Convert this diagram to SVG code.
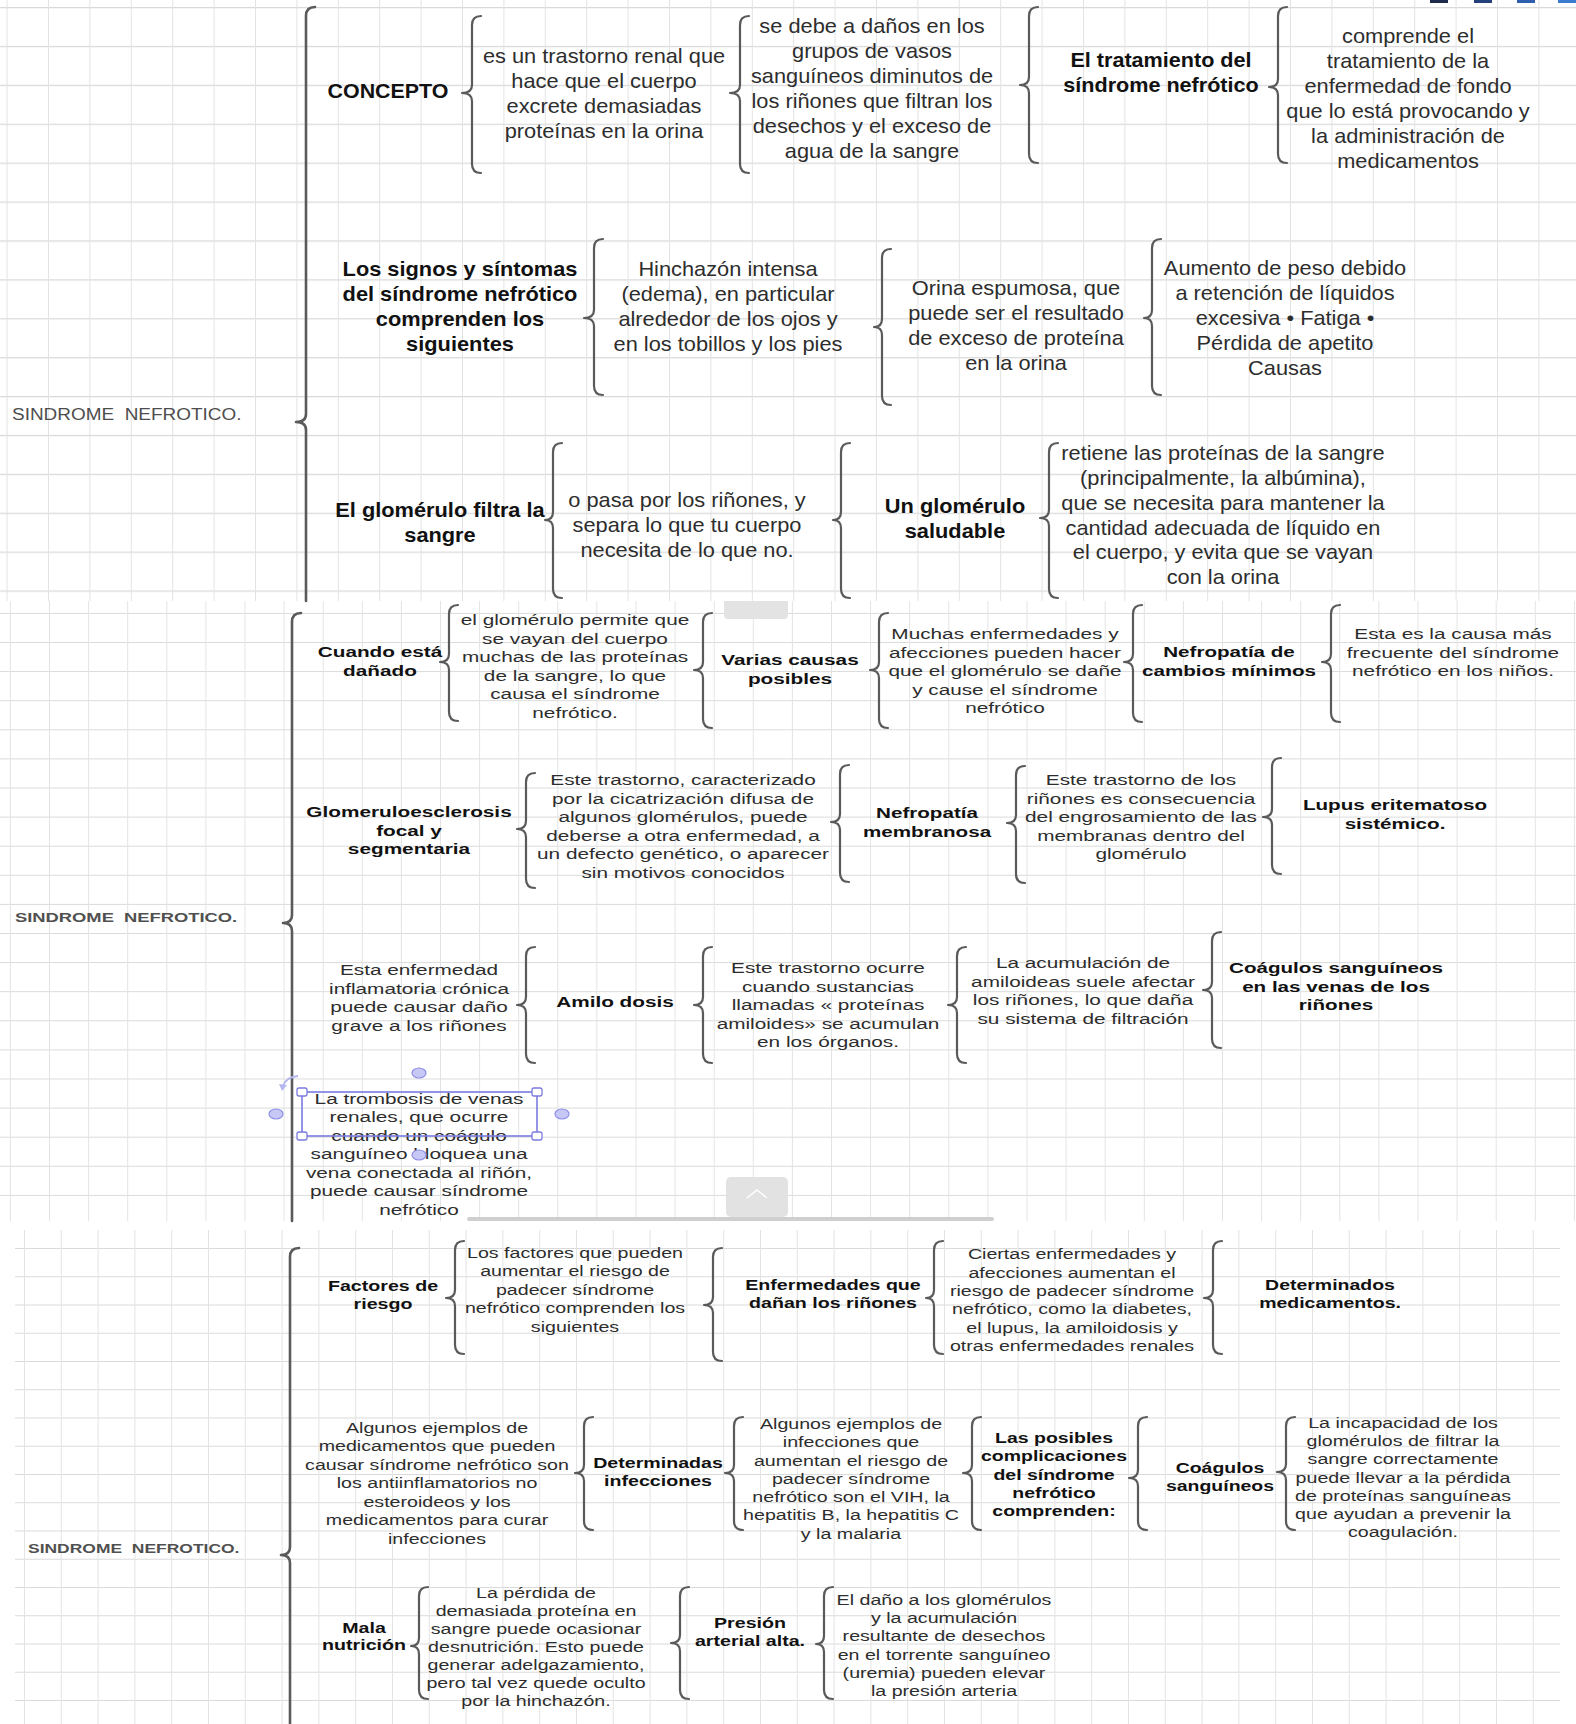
<svg xmlns="http://www.w3.org/2000/svg" width="1576" height="1724" viewBox="0 0 1576 1724">
<style>
.t{font-family:"Liberation Sans",Arial,sans-serif;text-anchor:middle;fill:#2d2d2d}
.f1{font-size:20px}
.f2{font-size:15.5px}
.f3{font-size:15.4px}
.b{font-weight:bold;fill:#111}
.root{font-family:"Liberation Sans",Arial,sans-serif;text-anchor:start;fill:#4d4d4d;white-space:pre}
.r1{font-size:17.4px}
.r2{font-size:13.7px;font-weight:bold;fill:#505050}
.br{fill:none;stroke:#5a5a5a;stroke-width:2.2;stroke-linecap:round;stroke-linejoin:round}
.main{stroke-width:2.6}
.hl{fill:#c8c8f6;stroke:#8e8ee8;stroke-width:1.2}
.hs{fill:#fff;stroke:#7b7be0;stroke-width:1.3}
</style>
<defs>
<pattern id="g1" patternUnits="userSpaceOnUse" x="6.6" y="7" width="41.4" height="38.9"><path d="M0 0.5H41.4" stroke="#d9d9d9" stroke-width="1.3"/><path d="M0.5 0V38.9" stroke="#e3e3e3"/></pattern>
<pattern id="g2" patternUnits="userSpaceOnUse" x="9.9" y="1.8" width="39.1" height="29.1"><path d="M0 0.5H39.1" stroke="#dadada"/><path d="M0.5 0V29.1" stroke="#e3e3e3"/></pattern>
<pattern id="g3" patternUnits="userSpaceOnUse" x="24" y="1248" width="36.8" height="28.25"><path d="M0 0.5H36.8" stroke="#dadada"/><path d="M0.5 0V28.25" stroke="#e3e3e3"/></pattern>
</defs>
<rect width="1576" height="1724" fill="#fff"/>
<g id="background">
<rect x="0" y="0" width="1576" height="601" fill="url(#g1)"/>
<rect x="0" y="601" width="1576" height="620" fill="url(#g2)"/>
<rect x="15" y="1230" width="1545" height="494" fill="url(#g3)"/>
<rect x="1430" y="0" width="18" height="3" fill="#1f2d4d"/>
<rect x="1474" y="0" width="18" height="3" fill="#25407a"/>
<rect x="1517" y="0" width="18" height="3" fill="#2e5fae"/>
<rect x="1558" y="0" width="18" height="3" fill="#3b7bd0"/>
<path d="M724 601H788V615Q788 619 784 619H728Q724 619 724 615Z" fill="#e3e3e3"/>
<rect x="726" y="1177" width="62" height="40" rx="5" fill="#e2e2e2"/>
<polyline points="747,1198 757,1190 767,1198" fill="none" stroke="#fff" stroke-width="1.5"/>
<rect x="467" y="1217" width="527" height="4" rx="2" fill="#cfcfcf"/>
</g>
<g id="connectors">
<path class="br main" d="M315 7Q306 7 306 16V414Q306 422 296 422Q306 422 306 430V601"/>
<path class="br" d="M481 16Q472 16 472 25V85Q472 93 462 93Q472 93 472 101V164Q472 173 481 173"/>
<path class="br" d="M749 16Q740 16 740 25V85Q740 93 730 93Q740 93 740 101V164Q740 173 749 173"/>
<path class="br" d="M1038 7Q1029 7 1029 16V77Q1029 85 1020 85Q1029 85 1029 93V154Q1029 163 1038 163"/>
<path class="br" d="M1287 7Q1278 7 1278 16V79Q1278 87 1269 87Q1278 87 1278 95V154Q1278 163 1287 163"/>
<path class="br" d="M603 239Q594 239 594 248V310Q594 318 584 318Q594 318 594 326V386Q594 395 603 395"/>
<path class="br" d="M891 249Q882 249 882 258V319Q882 327 874 327Q882 327 882 335V396Q882 405 891 405"/>
<path class="br" d="M1161 239Q1152 239 1152 248V310Q1152 318 1144 318Q1152 318 1152 326V386Q1152 395 1161 395"/>
<path class="br" d="M562 443Q553 443 553 452V512Q553 520 545 520Q553 520 553 528V589Q553 598 562 598"/>
<path class="br" d="M850 443Q841 443 841 452V512Q841 520 833 520Q841 520 841 528V589Q841 598 850 598"/>
<path class="br" d="M1058 443Q1049 443 1049 452V510Q1049 518 1040 518Q1049 518 1049 526V589Q1049 598 1058 598"/>
<path class="br main" d="M301 613Q292 613 292 622V915Q292 923 283 923Q292 923 292 931V1221"/>
<path class="br" d="M458 605Q449 605 449 614V654Q449 662 440 662Q449 662 449 670V712Q449 721 458 721"/>
<path class="br" d="M712 613Q703 613 703 622V662Q703 670 694 670Q703 670 703 678V719Q703 728 712 728"/>
<path class="br" d="M888 613Q879 613 879 622V662Q879 670 870 670Q879 670 879 678V719Q879 728 888 728"/>
<path class="br" d="M1142 605Q1133 605 1133 614V654Q1133 662 1124 662Q1133 662 1133 670V713Q1133 722 1142 722"/>
<path class="br" d="M1340 605Q1331 605 1331 614V654Q1331 662 1322 662Q1331 662 1331 670V713Q1331 722 1340 722"/>
<path class="br" d="M535 773Q526 773 526 782V821Q526 829 517 829Q526 829 526 837V879Q526 888 535 888"/>
<path class="br" d="M849 765Q840 765 840 774V814Q840 822 831 822Q840 822 840 830V873Q840 882 849 882"/>
<path class="br" d="M1025 766Q1016 766 1016 775V815Q1016 823 1007 823Q1016 823 1016 831V874Q1016 883 1025 883"/>
<path class="br" d="M1281 758Q1272 758 1272 767V809Q1272 817 1263 817Q1272 817 1272 825V865Q1272 874 1281 874"/>
<path class="br" d="M535 947Q526 947 526 956V997Q526 1005 517 1005Q526 1005 526 1013V1054Q526 1063 535 1063"/>
<path class="br" d="M712 947Q703 947 703 956V997Q703 1005 694 1005Q703 1005 703 1013V1054Q703 1063 712 1063"/>
<path class="br" d="M966 947Q957 947 957 956V997Q957 1005 948 1005Q957 1005 957 1013V1054Q957 1063 966 1063"/>
<path class="br" d="M1221 932Q1212 932 1212 941V982Q1212 990 1203 990Q1212 990 1212 998V1039Q1212 1048 1221 1048"/>
<path class="br main" d="M299 1248Q290 1248 290 1257V1547Q290 1555 281 1555Q290 1555 290 1563V1724"/>
<path class="br" d="M464 1241Q455 1241 455 1250V1290Q455 1298 446 1298Q455 1298 455 1306V1345Q455 1354 464 1354"/>
<path class="br" d="M722 1248Q713 1248 713 1257V1297Q713 1305 704 1305Q713 1305 713 1313V1352Q713 1361 722 1361"/>
<path class="br" d="M943 1241Q934 1241 934 1250V1290Q934 1298 926 1298Q934 1298 934 1306V1345Q934 1354 943 1354"/>
<path class="br" d="M1222 1241Q1213 1241 1213 1250V1290Q1213 1298 1204 1298Q1213 1298 1213 1306V1345Q1213 1354 1222 1354"/>
<path class="br" d="M593 1417Q584 1417 584 1426V1465Q584 1473 575 1473Q584 1473 584 1481V1521Q584 1530 593 1530"/>
<path class="br" d="M743 1417Q734 1417 734 1426V1465Q734 1473 725 1473Q734 1473 734 1481V1521Q734 1530 743 1530"/>
<path class="br" d="M981 1417Q972 1417 972 1426V1465Q972 1473 963 1473Q972 1473 972 1481V1521Q972 1530 981 1530"/>
<path class="br" d="M1147 1417Q1138 1417 1138 1426V1470Q1138 1478 1129 1478Q1138 1478 1138 1486V1521Q1138 1530 1147 1530"/>
<path class="br" d="M1295 1417Q1286 1417 1286 1426V1464Q1286 1472 1277 1472Q1286 1472 1286 1480V1521Q1286 1530 1295 1530"/>
<path class="br" d="M428 1587Q419 1587 419 1596V1638Q419 1646 411 1646Q419 1646 419 1654V1690Q419 1699 428 1699"/>
<path class="br" d="M689 1587Q680 1587 680 1596V1635Q680 1643 671 1643Q680 1643 680 1651V1690Q680 1699 689 1699"/>
<path class="br" d="M833 1587Q824 1587 824 1596V1636Q824 1644 816 1644Q824 1644 824 1652V1690Q824 1699 833 1699"/>
</g>
<g id="n1-root"><text class="root r1" xml:space="preserve" transform="translate(12 0) scale(1.09 1)"><tspan x="0" y="420">SINDROME  NEFROTICO.</tspan></text></g>
<g id="n1-concepto"><text class="t f1 b" transform="translate(388 0) scale(1.07 1)"><tspan x="0" y="98">CONCEPTO</tspan></text></g>
<g id="n1-def"><text class="t f1" transform="translate(604 0) scale(1.09 1)"><tspan x="0" y="63">es un trastorno renal que</tspan><tspan x="0" y="88">hace que el cuerpo</tspan><tspan x="0" y="113">excrete demasiadas</tspan><tspan x="0" y="138">proteínas en la orina</tspan></text></g>
<g id="n1-causa"><text class="t f1" transform="translate(872 0) scale(1.09 1)"><tspan x="0" y="33">se debe a daños en los</tspan><tspan x="0" y="58">grupos de vasos</tspan><tspan x="0" y="83">sanguíneos diminutos de</tspan><tspan x="0" y="108">los riñones que filtran los</tspan><tspan x="0" y="133">desechos y el exceso de</tspan><tspan x="0" y="158">agua de la sangre</tspan></text></g>
<g id="n1-trat"><text class="t f1 b" transform="translate(1161 0) scale(1.08 1)"><tspan x="0" y="67">El tratamiento del</tspan><tspan x="0" y="92">síndrome nefrótico</tspan></text></g>
<g id="n1-trat-desc"><text class="t f1" transform="translate(1408 0) scale(1.09 1)"><tspan x="0" y="43">comprende el</tspan><tspan x="0" y="68">tratamiento de la</tspan><tspan x="0" y="93">enfermedad de fondo</tspan><tspan x="0" y="118">que lo está provocando y</tspan><tspan x="0" y="143">la administración de</tspan><tspan x="0" y="168">medicamentos</tspan></text></g>
<g id="n1-signos"><text class="t f1 b" transform="translate(460 0) scale(1.09 1)"><tspan x="0" y="276">Los signos y síntomas</tspan><tspan x="0" y="301">del síndrome nefrótico</tspan><tspan x="0" y="326">comprenden los</tspan><tspan x="0" y="351">siguientes</tspan></text></g>
<g id="n1-hinchazon"><text class="t f1" transform="translate(728 0) scale(1.09 1)"><tspan x="0" y="276">Hinchazón intensa</tspan><tspan x="0" y="301">(edema), en particular</tspan><tspan x="0" y="326">alrededor de los ojos y</tspan><tspan x="0" y="351">en los tobillos y los pies</tspan></text></g>
<g id="n1-orina"><text class="t f1" transform="translate(1016 0) scale(1.09 1)"><tspan x="0" y="295">Orina espumosa, que</tspan><tspan x="0" y="320">puede ser el resultado</tspan><tspan x="0" y="345">de exceso de proteína</tspan><tspan x="0" y="370">en la orina</tspan></text></g>
<g id="n1-peso"><text class="t f1" transform="translate(1285 0) scale(1.09 1)"><tspan x="0" y="275">Aumento de peso debido</tspan><tspan x="0" y="300">a retención de líquidos</tspan><tspan x="0" y="325">excesiva • Fatiga •</tspan><tspan x="0" y="350">Pérdida de apetito</tspan><tspan x="0" y="375">Causas</tspan></text></g>
<g id="n1-glomerulo"><text class="t f1 b" transform="translate(440 0) scale(1.09 1)"><tspan x="0" y="517">El glomérulo filtra la</tspan><tspan x="0" y="542">sangre</tspan></text></g>
<g id="n1-pasa"><text class="t f1" transform="translate(687 0) scale(1.09 1)"><tspan x="0" y="507">o pasa por los riñones, y</tspan><tspan x="0" y="532">separa lo que tu cuerpo</tspan><tspan x="0" y="557">necesita de lo que no.</tspan></text></g>
<g id="n1-saludable"><text class="t f1 b" transform="translate(955 0) scale(1.09 1)"><tspan x="0" y="513">Un glomérulo</tspan><tspan x="0" y="538">saludable</tspan></text></g>
<g id="n1-retiene"><text class="t f1" transform="translate(1223 0) scale(1.09 1)"><tspan x="0" y="460">retiene las proteínas de la sangre</tspan><tspan x="0" y="485">(principalmente, la albúmina),</tspan><tspan x="0" y="510">que se necesita para mantener la</tspan><tspan x="0" y="535">cantidad adecuada de líquido en</tspan><tspan x="0" y="559">el cuerpo, y evita que se vayan</tspan><tspan x="0" y="584">con la orina</tspan></text></g>
<g id="n2-root"><text class="root r2" xml:space="preserve" transform="translate(15 0) scale(1.34 1)"><tspan x="0" y="922">SINDROME  NEFROTICO.</tspan></text></g>
<g id="n2-cuando"><text class="t f2 b" transform="translate(380 0) scale(1.34 1)"><tspan x="0" y="657">Cuando está</tspan><tspan x="0" y="676">dañado</tspan></text></g>
<g id="n2-permite"><text class="t f2" transform="translate(575 0) scale(1.34 1)"><tspan x="0" y="625">el glomérulo permite que</tspan><tspan x="0" y="643.6">se vayan del cuerpo</tspan><tspan x="0" y="662.2">muchas de las proteínas</tspan><tspan x="0" y="680.8">de la sangre, lo que</tspan><tspan x="0" y="699.4">causa el síndrome</tspan><tspan x="0" y="718">nefrótico.</tspan></text></g>
<g id="n2-varias"><text class="t f2 b" transform="translate(790 0) scale(1.34 1)"><tspan x="0" y="665">Varias causas</tspan><tspan x="0" y="683.6">posibles</tspan></text></g>
<g id="n2-muchas"><text class="t f2" transform="translate(1005 0) scale(1.34 1)"><tspan x="0" y="639">Muchas enfermedades y</tspan><tspan x="0" y="657.6">afecciones pueden hacer</tspan><tspan x="0" y="676.2">que el glomérulo se dañe</tspan><tspan x="0" y="694.8">y cause el síndrome</tspan><tspan x="0" y="713.4">nefrótico</tspan></text></g>
<g id="n2-cambios"><text class="t f2 b" transform="translate(1229 0) scale(1.33 1)"><tspan x="0" y="657">Nefropatía de</tspan><tspan x="0" y="676">cambios mínimos</tspan></text></g>
<g id="n2-frecuente"><text class="t f2" transform="translate(1453 0) scale(1.34 1)"><tspan x="0" y="639">Esta es la causa más</tspan><tspan x="0" y="657.6">frecuente del síndrome</tspan><tspan x="0" y="676.2">nefrótico en los niños.</tspan></text></g>
<g id="n2-glomeruloesclerosis"><text class="t f2 b" transform="translate(409 0) scale(1.34 1)"><tspan x="0" y="817">Glomeruloesclerosis</tspan><tspan x="0" y="835.6">focal y</tspan><tspan x="0" y="854.2">segmentaria</tspan></text></g>
<g id="n2-cicatrizacion"><text class="t f2" transform="translate(683 0) scale(1.34 1)"><tspan x="0" y="785">Este trastorno, caracterizado</tspan><tspan x="0" y="803.6">por la cicatrización difusa de</tspan><tspan x="0" y="822.2">algunos glomérulos, puede</tspan><tspan x="0" y="840.8">deberse a otra enfermedad, a</tspan><tspan x="0" y="859.4">un defecto genético, o aparecer</tspan><tspan x="0" y="878">sin motivos conocidos</tspan></text></g>
<g id="n2-membranosa"><text class="t f2 b" transform="translate(927 0) scale(1.33 1)"><tspan x="0" y="818">Nefropatía</tspan><tspan x="0" y="836.6">membranosa</tspan></text></g>
<g id="n2-engrosamiento"><text class="t f2" transform="translate(1141 0) scale(1.34 1)"><tspan x="0" y="785">Este trastorno de los</tspan><tspan x="0" y="803.6">riñones es consecuencia</tspan><tspan x="0" y="822.2">del engrosamiento de las</tspan><tspan x="0" y="840.8">membranas dentro del</tspan><tspan x="0" y="859.4">glomérulo</tspan></text></g>
<g id="n2-lupus"><text class="t f2 b" transform="translate(1395 0) scale(1.33 1)"><tspan x="0" y="810">Lupus eritematoso</tspan><tspan x="0" y="828.6">sistémico.</tspan></text></g>
<g id="n2-inflamatoria"><text class="t f2" transform="translate(419 0) scale(1.34 1)"><tspan x="0" y="975">Esta enfermedad</tspan><tspan x="0" y="993.6">inflamatoria crónica</tspan><tspan x="0" y="1012.2">puede causar daño</tspan><tspan x="0" y="1030.8">grave a los riñones</tspan></text></g>
<g id="n2-amilo"><text class="t f2 b" transform="translate(615 0) scale(1.34 1)"><tspan x="0" y="1007">Amilo dosis</tspan></text></g>
<g id="n2-amiloides"><text class="t f2" transform="translate(828 0) scale(1.34 1)"><tspan x="0" y="973">Este trastorno ocurre</tspan><tspan x="0" y="991.6">cuando sustancias</tspan><tspan x="0" y="1010.2">llamadas « proteínas</tspan><tspan x="0" y="1028.8">amiloides» se acumulan</tspan><tspan x="0" y="1047.4">en los órganos.</tspan></text></g>
<g id="n2-acumulacion"><text class="t f2" transform="translate(1083 0) scale(1.34 1)"><tspan x="0" y="968">La acumulación de</tspan><tspan x="0" y="986.6">amiloideas suele afectar</tspan><tspan x="0" y="1005.2">los riñones, lo que daña</tspan><tspan x="0" y="1023.8">su sistema de filtración</tspan></text></g>
<g id="n2-coagulos"><text class="t f2 b" transform="translate(1336 0) scale(1.33 1)"><tspan x="0" y="973">Coágulos sanguíneos</tspan><tspan x="0" y="991.6">en las venas de los</tspan><tspan x="0" y="1010.2">riñones</tspan></text></g>
<g id="n2-trombosis"><text class="t f2" transform="translate(419 0) scale(1.34 1)"><tspan x="0" y="1104">La trombosis de venas</tspan><tspan x="0" y="1122.5">renales, que ocurre</tspan><tspan x="0" y="1141">cuando un coágulo</tspan><tspan x="0" y="1159.5">sanguíneo bloquea una</tspan><tspan x="0" y="1178">vena conectada al riñón,</tspan><tspan x="0" y="1196.5">puede causar síndrome</tspan><tspan x="0" y="1215">nefrótico</tspan></text>
<rect x="302" y="1092" width="235" height="44" fill="none" stroke="#7b7be0" stroke-width="1.6"/>
<rect class="hs" x="297" y="1088" width="10" height="8" rx="2"/>
<rect class="hs" x="532" y="1088" width="10" height="8" rx="2"/>
<rect class="hs" x="297" y="1132" width="10" height="8" rx="2"/>
<rect class="hs" x="532" y="1132" width="10" height="8" rx="2"/>
<ellipse class="hl" cx="419" cy="1073" rx="7" ry="5"/>
<ellipse class="hl" cx="276" cy="1114" rx="7" ry="5"/>
<ellipse class="hl" cx="562" cy="1114" rx="7" ry="5"/>
<ellipse class="hl" cx="419" cy="1155" rx="7" ry="5"/>
<path d="M298 1076Q286 1077 283 1086" fill="none" stroke="#b3b6f0" stroke-width="2"/>
<polygon points="279,1084 287,1085 282,1091" fill="#b3b6f0"/>
</g>
<g id="n3-root"><text class="root r2" xml:space="preserve" transform="translate(28 0) scale(1.275 1)"><tspan x="0" y="1553">SINDROME  NEFROTICO.</tspan></text></g>
<g id="n3-factores"><text class="t f3 b" transform="translate(383 0) scale(1.275 1)"><tspan x="0" y="1291">Factores de</tspan><tspan x="0" y="1309.5">riesgo</tspan></text></g>
<g id="n3-factores-desc"><text class="t f3" transform="translate(575 0) scale(1.275 1)"><tspan x="0" y="1258">Los factores que pueden</tspan><tspan x="0" y="1276.5">aumentar el riesgo de</tspan><tspan x="0" y="1295">padecer síndrome</tspan><tspan x="0" y="1313.5">nefrótico comprenden los</tspan><tspan x="0" y="1332">siguientes</tspan></text></g>
<g id="n3-enfermedades"><text class="t f3 b" transform="translate(833 0) scale(1.275 1)"><tspan x="0" y="1290">Enfermedades que</tspan><tspan x="0" y="1308.5">dañan los riñones</tspan></text></g>
<g id="n3-ciertas"><text class="t f3" transform="translate(1072 0) scale(1.275 1)"><tspan x="0" y="1259">Ciertas enfermedades y</tspan><tspan x="0" y="1277.5">afecciones aumentan el</tspan><tspan x="0" y="1296">riesgo de padecer síndrome</tspan><tspan x="0" y="1314.5">nefrótico, como la diabetes,</tspan><tspan x="0" y="1333">el lupus, la amiloidosis y</tspan><tspan x="0" y="1351.5">otras enfermedades renales</tspan></text></g>
<g id="n3-medicamentos"><text class="t f3 b" transform="translate(1330 0) scale(1.265 1)"><tspan x="0" y="1290">Determinados</tspan><tspan x="0" y="1308.5">medicamentos.</tspan></text></g>
<g id="n3-ejemplos-med"><text class="t f3" transform="translate(437 0) scale(1.275 1)"><tspan x="0" y="1433">Algunos ejemplos de</tspan><tspan x="0" y="1451.5">medicamentos que pueden</tspan><tspan x="0" y="1470">causar síndrome nefrótico son</tspan><tspan x="0" y="1488.5">los antiinflamatorios no</tspan><tspan x="0" y="1507">esteroideos y los</tspan><tspan x="0" y="1525.5">medicamentos para curar</tspan><tspan x="0" y="1544">infecciones</tspan></text></g>
<g id="n3-infecciones"><text class="t f3 b" transform="translate(658 0) scale(1.275 1)"><tspan x="0" y="1468">Determinadas</tspan><tspan x="0" y="1486.5">infecciones</tspan></text></g>
<g id="n3-ejemplos-inf"><text class="t f3" transform="translate(851 0) scale(1.275 1)"><tspan x="0" y="1429">Algunos ejemplos de</tspan><tspan x="0" y="1447.3">infecciones que</tspan><tspan x="0" y="1465.6">aumentan el riesgo de</tspan><tspan x="0" y="1483.9">padecer síndrome</tspan><tspan x="0" y="1502.2">nefrótico son el VIH, la</tspan><tspan x="0" y="1520.5">hepatitis B, la hepatitis C</tspan><tspan x="0" y="1538.8">y la malaria</tspan></text></g>
<g id="n3-complicaciones"><text class="t f3 b" transform="translate(1054 0) scale(1.265 1)"><tspan x="0" y="1443">Las posibles</tspan><tspan x="0" y="1461.3">complicaciones</tspan><tspan x="0" y="1479.6">del síndrome</tspan><tspan x="0" y="1497.9">nefrótico</tspan><tspan x="0" y="1516.2">comprenden:</tspan></text></g>
<g id="n3-coagulos"><text class="t f3 b" transform="translate(1220 0) scale(1.265 1)"><tspan x="0" y="1473">Coágulos</tspan><tspan x="0" y="1491.5">sanguíneos</tspan></text></g>
<g id="n3-incapacidad"><text class="t f3" transform="translate(1403 0) scale(1.275 1)"><tspan x="0" y="1428">La incapacidad de los</tspan><tspan x="0" y="1446.2">glomérulos de filtrar la</tspan><tspan x="0" y="1464.4">sangre correctamente</tspan><tspan x="0" y="1482.6">puede llevar a la pérdida</tspan><tspan x="0" y="1500.8">de proteínas sanguíneas</tspan><tspan x="0" y="1519">que ayudan a prevenir la</tspan><tspan x="0" y="1537.2">coagulación.</tspan></text></g>
<g id="n3-mala"><text class="t f3 b" transform="translate(364 0) scale(1.275 1)"><tspan x="0" y="1633">Mala</tspan><tspan x="0" y="1650.5">nutrición</tspan></text></g>
<g id="n3-perdida"><text class="t f3" transform="translate(536 0) scale(1.275 1)"><tspan x="0" y="1598">La pérdida de</tspan><tspan x="0" y="1616">demasiada proteína en</tspan><tspan x="0" y="1634">sangre puede ocasionar</tspan><tspan x="0" y="1652">desnutrición. Esto puede</tspan><tspan x="0" y="1670">generar adelgazamiento,</tspan><tspan x="0" y="1688">pero tal vez quede oculto</tspan><tspan x="0" y="1706">por la hinchazón.</tspan></text></g>
<g id="n3-presion"><text class="t f3 b" transform="translate(750 0) scale(1.275 1)"><tspan x="0" y="1628">Presión</tspan><tspan x="0" y="1646.5">arterial alta.</tspan></text></g>
<g id="n3-dano"><text class="t f3" transform="translate(944 0) scale(1.275 1)"><tspan x="0" y="1605">El daño a los glomérulos</tspan><tspan x="0" y="1623.2">y la acumulación</tspan><tspan x="0" y="1641.4">resultante de desechos</tspan><tspan x="0" y="1659.6">en el torrente sanguíneo</tspan><tspan x="0" y="1677.8">(uremia) pueden elevar</tspan><tspan x="0" y="1696">la presión arteria</tspan></text></g>
</svg>
